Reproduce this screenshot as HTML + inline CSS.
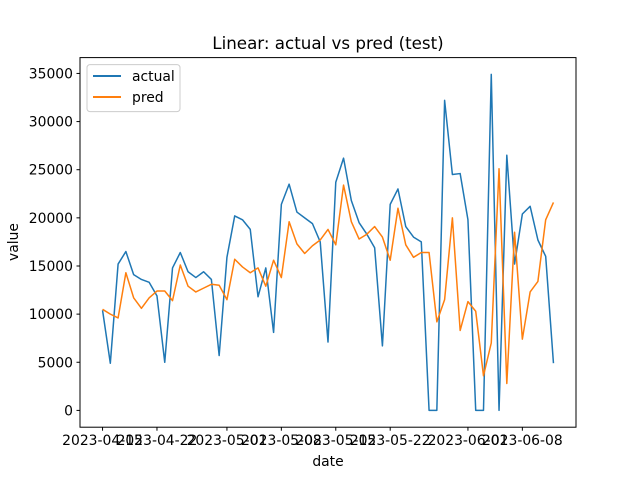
<!DOCTYPE html>
<html><head><meta charset="utf-8"><style>
body{margin:0;background:#fff}
svg{font-family:"DejaVu Sans","Liberation Sans",sans-serif}
</style></head><body>
<svg id="chart" width="640" height="480" viewBox="0 0 640 480">
<rect width="640" height="480" fill="#fff"/>
<text x="328" y="49" font-size="16.7" text-anchor="middle">Linear: actual vs pred (test)</text>
<g id="plot"></g>
<rect x="80" y="57.6" width="496" height="369.6" fill="none" stroke="#000" stroke-width="1"/>
<text x="328" y="466" font-size="13.9" text-anchor="middle">date</text>
<text transform="translate(18,242) rotate(-90)" font-size="13.9" text-anchor="middle">value</text>
<g>
<rect x="87" y="64.6" width="93" height="47" rx="3" fill="#fff" fill-opacity="0.8" stroke="#ccc"/>
<g><line x1="93" y1="76" x2="121" y2="76" stroke="#1f77b4" stroke-width="2"/><text x="132" y="81" font-size="13.9">actual</text></g>
<g><line x1="93" y1="97" x2="121" y2="97" stroke="#ff7f0e" stroke-width="2"/><text x="132" y="102" font-size="13.9">pred</text></g>
</g>
</svg>
<script>
const actual=[10.4,4.9,15.2,16.5,14.1,13.6,13.3,11.9,5.0,14.8,16.4,14.4,13.8,14.4,13.6,5.7,15.9,20.2,19.8,18.8,11.8,14.8,8.1,21.4,23.5,20.6,20.0,19.4,17.5,7.1,23.7,26.2,21.8,19.5,18.3,16.9,6.7,21.4,23.0,19.1,18.0,17.5,0,0,32.2,24.5,24.6,19.8,0,0,34.9,0,26.5,15.2,20.4,21.2,17.7,16.0,4.9].map(v=>v*1000);
const pred=[10.5,10.0,9.6,14.3,11.7,10.6,11.7,12.4,12.4,11.4,15.1,12.9,12.3,12.7,13.1,13.0,11.5,15.7,14.9,14.3,14.8,12.9,15.6,13.8,19.6,17.3,16.3,17.1,17.7,18.8,17.2,23.4,19.6,17.8,18.3,19.1,18.0,15.6,21.0,17.2,15.9,16.4,16.4,9.2,11.5,20.0,8.3,11.3,10.3,3.6,7.0,25.1,2.8,18.5,7.4,12.3,13.4,19.8,21.6].map(v=>v*1000);
const yTicks=[0,5000,10000,15000,20000,25000,30000,35000];
const xTickDays=[0,7,16,23,30,37,47,54];
const xTickLabels=["2023-04-15","2023-04-22","2023-05-01","2023-05-08","2023-05-15","2023-05-22","2023-06-01","2023-06-08"];
const NS="http://www.w3.org/2000/svg";
const L=80,R=576,T=57.6,B=427.2;
const n=actual.length;
const xr=(n-1)*0.05;
const x=i=>L+(i+xr)/((n-1)+2*xr)*(R-L);
const all=actual.concat(pred);
const mn=Math.min(...all),mx=Math.max(...all),yr=(mx-mn)*0.05;
const y=v=>B-(v-(mn-yr))/((mx-mn)+2*yr)*(B-T);
const plot=document.getElementById('plot');
const svg=document.getElementById('chart');
function mk(tag,at,parent){const e=document.createElementNS(NS,tag);for(const k in at)e.setAttribute(k,at[k]);(parent||plot).appendChild(e);return e;}
yTicks.forEach(v=>{
  const t=mk('line',{x1:L-3.5,x2:L,y1:y(v),y2:y(v),stroke:'#000'},svg);
  
  
  const l=mk('text',{x:L-7,y:y(v)+5,'font-size':13.9,'text-anchor':'end'},svg);
  l.textContent=v;
  
  
});
xTickDays.forEach((d,k)=>{
  const t=mk('line',{x1:x(d),x2:x(d),y1:B,y2:B+3.5,stroke:'#000'},svg);
  
  
  const l=mk('text',{x:x(d),y:B+18,'font-size':13.9,'text-anchor':'middle'},svg);
  l.textContent=xTickLabels[k];
  
  
});
function series(arr,color,name){
  const p=mk('polyline',{points:arr.map((v,i)=>x(i)+','+y(v)).join(' '),fill:'none',stroke:color,'stroke-width':1.5,'stroke-linejoin':'round'});
  
  
}
series(actual,'#1f77b4','actual-line');
series(pred,'#ff7f0e','pred-line');
</script>
</body></html>
